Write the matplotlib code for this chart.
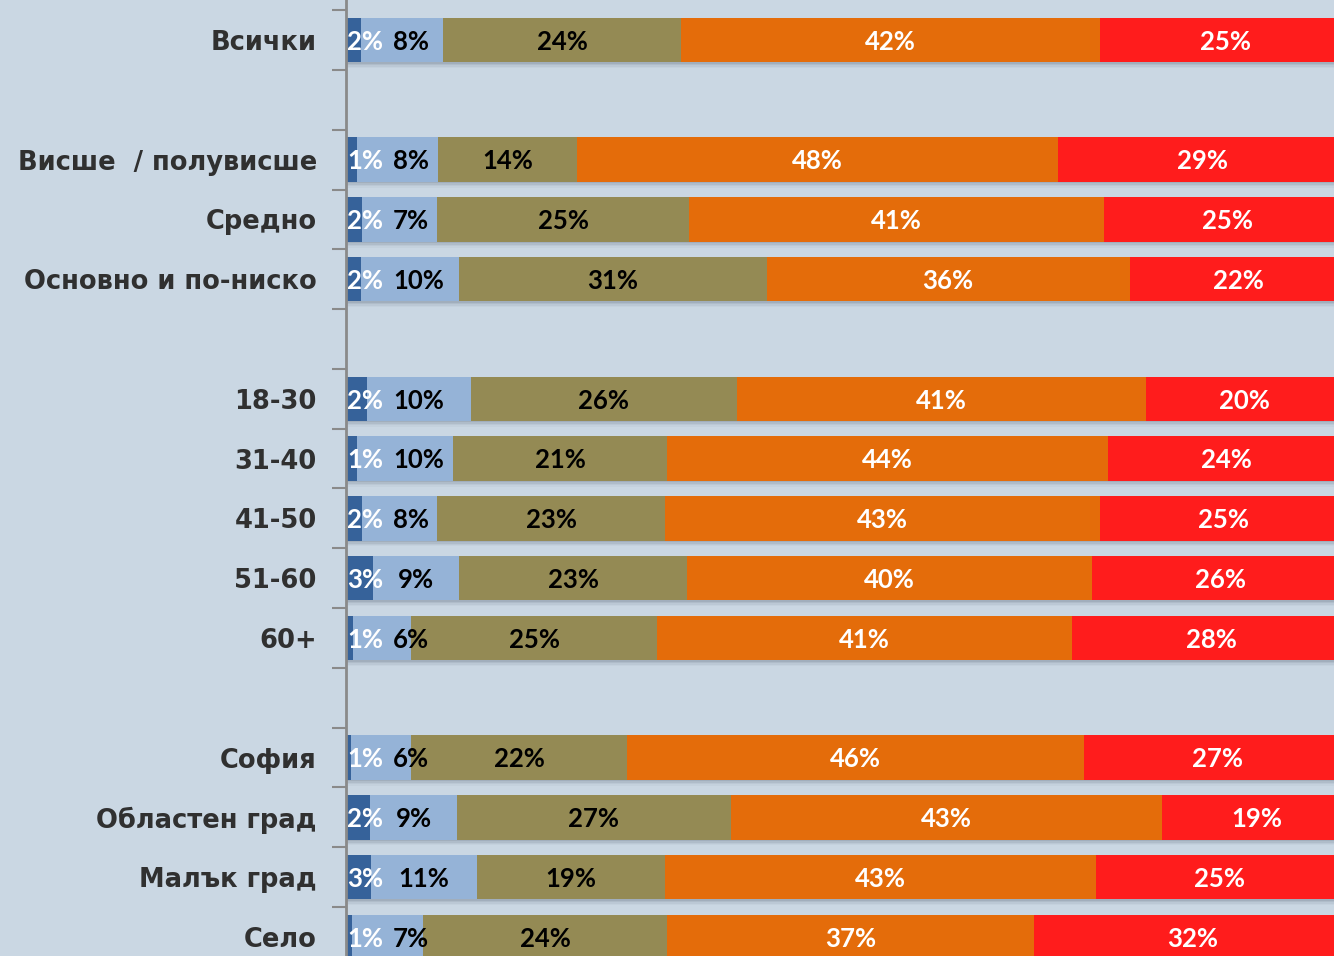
import matplotlib
matplotlib.use("Agg")
import matplotlib.pyplot as plt
import numpy as np

plt.rcParams["savefig.bbox"] = None
plt.rcParams["savefig.pad_inches"] = 0

# ---- data -------------------------------------------------------------
groups = [
    ["Всички"],
    ["Висше  / полувисше", "Средно", "Основно и по-ниско"],
    ["18-30", "31-40", "41-50", "51-60", "60+"],
    ["София", "Областен град", "Малък град", "Село"],
]
# segment widths (percent)
s1 = [1.5, 1.1, 1.6, 1.5, 2.1, 1.1, 1.6, 2.7, 0.7, 0.5, 2.4, 2.5, 0.6]
s2 = [8.3, 8.2, 7.6, 9.9, 10.5, 9.7, 7.6, 8.7, 5.9, 6.1, 8.8, 10.7, 7.2]
s3 = [24.0, 14.0, 25.4, 31.0, 26.8, 21.6, 23.0, 23.0, 24.8, 21.7, 27.6, 19.0, 24.6]
s4 = [42.2, 48.5, 41.8, 36.6, 41.2, 44.4, 43.8, 40.8, 41.8, 46.1, 43.5, 43.4, 37.0]
s5 = [25.4, 29.0, 25.0, 22.0, 20.0, 24.0, 25.0, 26.0, 28.0, 27.0, 19.0, 25.0, 32.0]
# printed labels
l1 = ["2%", "1%", "2%", "2%", "2%", "1%", "2%", "3%", "1%", "1%", "2%", "3%", "1%"]
l2 = ["8%", "8%", "7%", "10%", "10%", "10%", "8%", "9%", "6%", "6%", "9%", "11%", "7%"]
l3 = ["24%", "14%", "25%", "31%", "26%", "21%", "23%", "23%", "25%", "22%", "27%", "19%", "24%"]
l4 = ["42%", "48%", "41%", "36%", "41%", "44%", "43%", "40%", "41%", "46%", "43%", "43%", "37%"]
l5 = ["25%", "29%", "25%", "22%", "20%", "24%", "25%", "26%", "28%", "27%", "19%", "25%", "32%"]

series = [s1, s2, s3, s4, s5]
labels = [l1, l2, l3, l4, l5]
colors = ["#36629A", "#95B3D7", "#948A54", "#E46C0A", "#FF1C1C"]
text_colors = ["white", "black", "black", "white", "white"]

# ---- layout -----------------------------------------------------------
cats, ypos = [], []
row = 0
for gi, g in enumerate(groups):
    if gi > 0:
        row += 1
    for c in g:
        cats.append(c)
        ypos.append(row)
        row += 1
ypos = np.array(ypos, dtype=float)
nrows = row

YLIM = (15.318, -0.669)

bg = "#CAD7E3"
fig = plt.figure(figsize=(13.34, 9.56), dpi=100, facecolor=bg)
ax = fig.add_axes([346 / 1334, 0, 988 / 1334, 1])
ax.set_facecolor(bg)

H = 0.74
totals = np.sum(np.array(series), axis=0)

# soft shadow under each bar
for off, a in [(0.025, 0.16), (0.05, 0.12), (0.075, 0.08), (0.10, 0.05)]:
    ax.barh(ypos + off, totals, height=H, color="#5a6a7a", alpha=a,
            linewidth=0, zorder=1)

lab_font = dict(fontsize=18.5, fontweight="bold", family=["Lato", "DejaVu Sans"])
txt = [[None] * len(cats) for _ in series]
left = np.zeros(len(cats))
for k, (vals, labs) in enumerate(zip(series, labels)):
    vals = np.array(vals)
    ax.barh(ypos, vals, left=left, height=H, color=colors[k],
            linewidth=0, zorder=2)
    for i in range(len(cats)):
        x = 1.9 if k == 0 else left[i] + vals[i] / 2
        txt[k][i] = ax.text(x, ypos[i] + 0.03, labs[i], ha="center", va="center",
                            color=text_colors[k], zorder=5, clip_on=False,
                            **lab_font)
    left += vals

ax.set_yticks(ypos)
ax.set_yticklabels(cats, fontsize=18.5, fontweight="bold", color="#303030",
                   family=["DejaVu Sans"])
ax.set_yticks(np.arange(-0.5, nrows - 0.5, 1.0), minor=True)
ax.tick_params(axis="y", which="major", length=0, pad=21)
ax.tick_params(axis="y", which="minor", length=10, width=1.5,
               color="#8a8a8a", direction="out")
ax.set_xticks([])
ax.set_xlim(0, 99.6)
ax.set_ylim(*YLIM)
ax.set_autoscale_on(False)

# push the second label to the right where it would collide with the first
fig.canvas.draw()
r = fig.canvas.get_renderer()
inv = ax.transData.inverted()
for i in range(len(cats)):
    b1 = txt[0][i].get_window_extent(r)
    b2 = txt[1][i].get_window_extent(r)
    need = b1.x1 + 10
    if b2.x0 < need:
        shift_px = need - b2.x0
        x0, y0 = txt[1][i].get_position()
        px = ax.transData.transform((x0, y0))
        nx = inv.transform((px[0] + shift_px, px[1]))[0]
        txt[1][i].set_x(nx)

for s in ["top", "right", "bottom"]:
    ax.spines[s].set_visible(False)
ax.spines["left"].set_color("#8a8a8a")
ax.spines["left"].set_linewidth(2)
ax.spines["left"].set_zorder(6)

fig.savefig("out.png", dpi=100, facecolor=bg, bbox_inches=None)
